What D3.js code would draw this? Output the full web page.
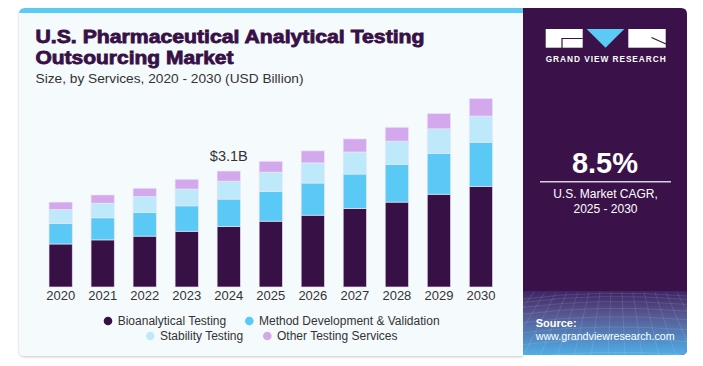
<!DOCTYPE html>
<html><head><meta charset="utf-8">
<script src="https://cdn.jsdelivr.net/npm/d3@7"></script>
<style>
html,body{margin:0;padding:0;background:#fff;}
svg{display:block;font-family:"Liberation Sans",Arial,sans-serif;}
</style></head>
<body>
<svg id="c" width="703" height="366"></svg>
<script>
const years = ["2020","2021","2022","2023","2024","2025","2026","2027","2028","2029","2030"];
const seriesNames = ["Bioanalytical Testing","Method Development & Validation","Stability Testing","Other Testing Services"];
const bioanalytical = [1.15,1.26,1.36,1.49,1.62,1.76,1.92,2.10,2.27,2.48,2.69];
const methodDev     = [0.55,0.59,0.63,0.68,0.73,0.79,0.86,0.92,1.01,1.09,1.18];
const stability     = [0.37,0.39,0.43,0.45,0.48,0.52,0.54,0.59,0.62,0.66,0.70];
const other         = [0.20,0.22,0.22,0.26,0.27,0.29,0.32,0.35,0.37,0.41,0.47];
const colors = ["#371146","#5bc9f5","#bde9fa","#d4a8ec"];
const annotation = {year:"2024", text:"$3.1B"};

const svg = d3.select("#c");
const defs = svg.append("defs");
const sh = defs.append("filter").attr("id","sh").attr("x","-5%").attr("y","-5%").attr("width","110%").attr("height","110%");
sh.append("feDropShadow").attr("dx",0).attr("dy",1).attr("stdDeviation",1).attr("flood-color","#000").attr("flood-opacity",0.22);
const gr = defs.append("linearGradient").attr("id","gr").attr("x1",0).attr("y1",0).attr("x2",0).attr("y2",1);
gr.append("stop").attr("offset","0%").attr("stop-color","#3f2463");
gr.append("stop").attr("offset","35%").attr("stop-color","#56558f");
gr.append("stop").attr("offset","100%").attr("stop-color","#4fb0e8");
const clip = defs.append("clipPath").attr("id","rp");
clip.append("path").attr("d","M523,8 H681 Q687,8 687,14 V349 Q687,355 681,355 H523 Z");

// card
svg.append("path").attr("d","M25,8 H523 V356 H25 Q19,356 19,350 V14 Q19,8 25,8 Z")
  .attr("fill","#f5fafd").attr("filter","url(#sh)");
svg.append("path").attr("d","M25,8 H523 V13 H19 V14 Q19,8 25,8 Z").attr("fill","#5ccaf5");
// right panel
const rp = svg.append("g").attr("clip-path","url(#rp)");
rp.append("rect").attr("x",523).attr("y",8).attr("width",164).attr("height",348).attr("fill","#3a1249");
rp.append("rect").attr("x",523).attr("y",291).attr("width",164).attr("height",65).attr("fill","url(#gr)");
// mesh decoration
const mesh = rp.append("g").attr("stroke","#ffffff").attr("stroke-opacity",0.16).attr("fill","none").attr("stroke-width",0.7);
for(let i=0;i<9;i++){
  const yy = 293 + i*i*0.85 + i*2.5;
  mesh.append("path").attr("d",`M523,${yy+6} Q600,${yy-4} 687,${yy+3}`);
}
for(let i=-6;i<18;i++){
  const xt = 523 + i*11, xb = 523 + (i-3)*17;
  mesh.append("path").attr("d",`M${xt},292 L${xb},356`);
}

// title
const title = svg.append("g").attr("fill","#371146").attr("stroke","#371146").attr("stroke-width",0.8)
  .attr("font-weight","bold").attr("font-size",18);
title.append("text").attr("x",35.5).attr("y",43.3).attr("textLength",389).attr("lengthAdjust","spacingAndGlyphs")
  .text("U.S. Pharmaceutical Analytical Testing");
title.append("text").attr("x",35.5).attr("y",63.8).attr("textLength",198).attr("lengthAdjust","spacingAndGlyphs")
  .text("Outsourcing Market");
svg.append("text").attr("x",35.5).attr("y",82.5).attr("font-size",13).attr("fill","#333")
  .attr("textLength",268).attr("lengthAdjust","spacingAndGlyphs")
  .text("Size, by Services, 2020 - 2030 (USD Billion)");

// chart
const x = d3.scaleBand().domain(years).range([28,513.6]).paddingInner(0.446).paddingOuter(0.5);
const y = d3.scaleLinear().domain([0,5]).range([287,100]);
const rows = years.map((yr,i)=>({year:yr, s0:bioanalytical[i], s1:methodDev[i], s2:stability[i], s3:other[i]}));
const stack = d3.stack().keys(["s0","s1","s2","s3"])(rows);
const g = svg.append("g");
g.selectAll("g.s").data(stack).join("g").attr("fill",(d,i)=>colors[i])
  .selectAll("rect").data(d=>d).join("rect")
  .attr("x",d=>x(d.data.year)).attr("width",x.bandwidth())
  .attr("y",d=>y(d[1])).attr("height",d=>y(d[0])-y(d[1]))
  .attr("stroke","#ece6f6").attr("stroke-width",0.8).attr("stroke-opacity",0.8);

const ax = svg.append("g").attr("transform","translate(0,287)")
  .call(d3.axisBottom(x).tickSize(0).tickPadding(4));
ax.select(".domain").remove();
ax.selectAll("text").attr("font-size",13).attr("fill","#333").attr("font-family","Liberation Sans, Arial, sans-serif");

const ai = years.indexOf(annotation.year);
const tot = bioanalytical[ai]+methodDev[ai]+stability[ai]+other[ai];
svg.append("text").attr("x",x(annotation.year)+x.bandwidth()/2).attr("y",y(tot)-10.5)
  .attr("text-anchor","middle").attr("font-size",14.5).attr("fill","#333").text(annotation.text);

// legend
const legPos = [[108,321],[249.3,321],[150.3,336],[267.3,336]];
const lg = svg.append("g");
seriesNames.forEach((n,i)=>{
  lg.append("circle").attr("cx",legPos[i][0]).attr("cy",legPos[i][1]).attr("r",4.3).attr("fill",colors[i]);
  lg.append("text").attr("x",legPos[i][0]+9.7).attr("y",legPos[i][1]+4.3).attr("font-size",12).attr("fill","#333").text(n);
});

// logo
const logo = svg.append("g");
logo.append("rect").attr("x",545.7).attr("y",29).attr("width",37).attr("height",18.7).attr("fill","#fff");
logo.append("path").attr("d","M562,48 V38.5 H582.7").attr("stroke","#3a1249").attr("stroke-width",1.2).attr("fill","none");
logo.append("path").attr("d","M586.7,29 H624.3 L605.5,47.7 Z").attr("fill","#5ccaf5");
logo.append("rect").attr("x",628.3).attr("y",29).attr("width",37.4).attr("height",18.7).attr("fill","#fff");
logo.append("path").attr("d","M651.5,37.5 L666,44").attr("stroke","#3a1249").attr("stroke-width",1.2);
logo.append("text").attr("x",545.7).attr("y",61.7).attr("font-size",8.3).attr("font-weight","bold").attr("fill","#fff")
  .attr("textLength",120).attr("lengthAdjust","spacing").text("GRAND VIEW RESEARCH");

// CAGR
svg.append("text").attr("x",605).attr("y",173.3).attr("text-anchor","middle").attr("font-size",29).attr("font-weight","bold").attr("fill","#fff").text("8.5%");
svg.append("line").attr("x1",540).attr("x2",671).attr("y1",181.7).attr("y2",181.7).attr("stroke","#d8d0e0").attr("stroke-width",1.5);
svg.append("text").attr("x",605.5).attr("y",198.3).attr("text-anchor","middle").attr("font-size",12).attr("fill","#fff").text("U.S. Market CAGR,");
svg.append("text").attr("x",605.5).attr("y",212.7).attr("text-anchor","middle").attr("font-size",12).attr("fill","#fff").text("2025 - 2030");

svg.append("text").attr("x",535.7).attr("y",326.7).attr("font-size",11).attr("font-weight","bold").attr("fill","#fff").text("Source:");
svg.append("text").attr("x",535.7).attr("y",340.3).attr("font-size",10.7).attr("fill","#fff").text("www.grandviewresearch.com");
</script>
</body></html>
